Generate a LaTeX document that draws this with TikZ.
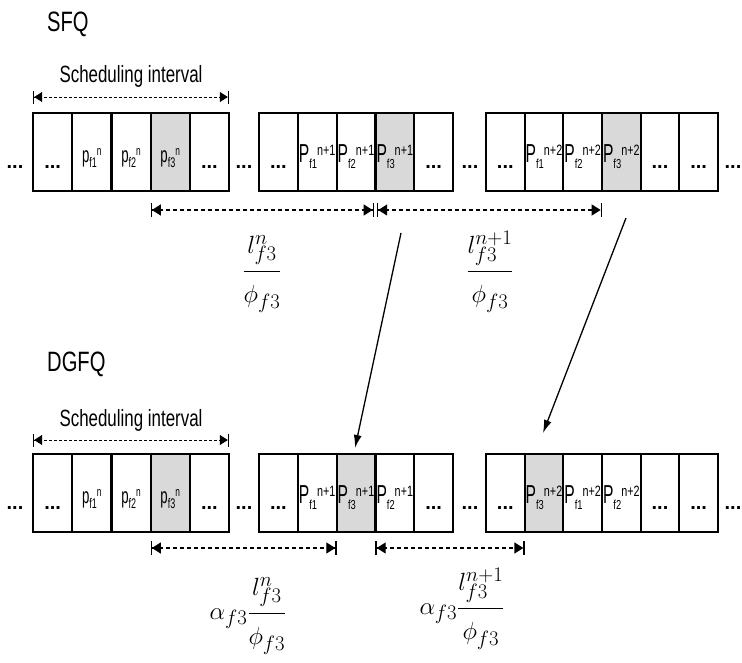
\documentclass[tikz,border=0pt]{standalone}
\usepackage{fontspec}
\setmainfont{Liberation Sans}
\newfontfamily\nar[FakeStretch=0.72]{Liberation Sans}
\newfontfamily\narq[FakeStretch=0.64]{Liberation Sans}
\newfontfamily\narp[FakeStretch=0.6]{Liberation Sans}
\usetikzlibrary{arrows.meta,calc}
\newcommand\dts{{\fontsize{20}{20}\selectfont\bfseries ...}}
\newcommand\pl[2]{{\narp\fontsize{22}{22}\selectfont p}\raisebox{-5pt}{\narq\fontsize{14}{14}\selectfont #1}\raisebox{7pt}{\narq\fontsize{13}{13}\selectfont #2}}
\newcommand\Pl[2]{{\narp\fontsize{26}{26}\selectfont P}\raisebox{-6pt}{\nar\fontsize{13}{13}\selectfont #1}\raisebox{7pt}{\nar\fontsize{15}{15}\selectfont #2}}
\newcommand\numst{\rule[-0.55em]{0pt}{0pt}}
\newcommand\denst{\rule{0pt}{1.1em}}
\begin{document}
\begin{tikzpicture}[x=1pt,y=-1pt,
  cell/.style={draw,line width=2.2pt,minimum height=78pt,inner sep=0pt,outer sep=0pt,text height=32pt,text depth=0pt},
  lcell/.style={cell,text height=20pt},
  gcell/.style={lcell,fill=gray!30},
  wa/.style={minimum width=39.2pt},
  wb/.style={minimum width=38.8pt},
  wc/.style={minimum width=38.67pt},
  outdots/.style={anchor=base,inner sep=0pt},
  title/.style={anchor=base west,inner sep=0pt,font=\nar\fontsize{28}{28}\selectfont},
  sched/.style={anchor=base,inner sep=0pt,font=\nar\fontsize{23.5}{24}\selectfont},
  dim/.style={dash pattern=on 4pt off 3pt,line width=1.3pt,
    {Bar[width=14pt,line width=1.3pt]Triangle[length=9pt,width=11pt]}-{Triangle[length=9pt,width=11pt]Bar[width=14pt,line width=1.3pt]}},
  sdim/.style={dash pattern=on 3pt off 2pt,line width=1pt,
    {Bar[width=13pt,line width=1.2pt]Triangle[length=8pt,width=10pt]}-{Triangle[length=8pt,width=10pt]Bar[width=13pt,line width=1.2pt]}},
  move/.style={line width=1.3pt,-{Latex[length=13pt,width=8pt]}},
  frac/.style={anchor=base,inner sep=0pt,font=\fontsize{28}{28}\selectfont}]
\useasboundingbox (0,0) rectangle (742,662);

% titles
\node[title] (sfq) at (47,31) {SFQ};
\node[title] (dgfq) at (47,371) {DGFQ};
\node[sched] (si1) at (131,82) {Scheduling interval};
\node[sched] (si2) at (131,426) {Scheduling interval};

% ---------- upper row ----------
\node[cell,wa] (u11) at (52.6,152) {\dts};
\node[lcell,wa] (u12) at (91.8,152) {\pl{f1}{n}};
\node[lcell,wa] (u13) at (131,152) {\pl{f2}{n}};
\node[gcell,wa] (u14) at (170.2,152) {\pl{f3}{n}};
\node[cell,wa] (u15) at (209.4,152) {\dts};

\node[cell,wb] (u21) at (278.4,152) {\dts};
\node[lcell,wb] (u22) at (317.2,152) {\Pl{f1}{n+1}};
\node[lcell,wb] (u23) at (356,152) {\Pl{f2}{n+1}};
\node[gcell,wb] (u24) at (394.8,152) {\Pl{f3}{n+1}};
\node[cell,wb] (u25) at (433.6,152) {\dts};

\node[cell,wc] (u31) at (505.3,152) {\dts};
\node[lcell,wc] (u32) at (544,152) {\Pl{f1}{n+2}};
\node[lcell,wc] (u33) at (582.7,152) {\Pl{f2}{n+2}};
\node[gcell,wc] (u34) at (621.3,152) {\Pl{f3}{n+2}};
\node[cell,wc] (u35) at (660,152) {\dts};
\node[cell,wc] (u36) at (698.7,152) {\dts};

\node[outdots] (ud1) at (15,168) {\dts};
\node[outdots] (ud2) at (244,168) {\dts};
\node[outdots] (ud3) at (470,168) {\dts};
\node[outdots] (ud4) at (733,168) {\dts};

% ---------- lower row ----------
\node[cell,wa] (l11) at (52.6,493) {\dts};
\node[lcell,wa] (l12) at (91.8,493) {\pl{f1}{n}};
\node[lcell,wa] (l13) at (131,493) {\pl{f2}{n}};
\node[gcell,wa] (l14) at (170.2,493) {\pl{f3}{n}};
\node[cell,wa] (l15) at (209.4,493) {\dts};

\node[cell,wb] (l21) at (278.4,493) {\dts};
\node[lcell,wb] (l22) at (317.2,493) {\Pl{f1}{n+1}};
\node[gcell,wb] (l23) at (356,493) {\Pl{f3}{n+1}};
\node[lcell,wb] (l24) at (394.8,493) {\Pl{f2}{n+1}};
\node[cell,wb] (l25) at (433.6,493) {\dts};

\node[cell,wc] (l31) at (505.3,493) {\dts};
\node[gcell,wc] (l32) at (544,493) {\Pl{f3}{n+2}};
\node[lcell,wc] (l33) at (582.7,493) {\Pl{f1}{n+2}};
\node[lcell,wc] (l34) at (621.3,493) {\Pl{f2}{n+2}};
\node[cell,wc] (l35) at (660,493) {\dts};
\node[cell,wc] (l36) at (698.7,493) {\dts};

\node[outdots] (ld1) at (15,509) {\dts};
\node[outdots] (ld2) at (244,509) {\dts};
\node[outdots] (ld3) at (470,509) {\dts};
\node[outdots] (ld4) at (733,509) {\dts};

% ---------- dimension arrows ----------
\coordinate (sa1) at ($(u11.north west)+(0,-16)$);
\coordinate (sb1) at ($(u15.north east)+(0,-16)$);
\draw[sdim] (sa1) -- (sb1);
\coordinate (sa2) at ($(l11.north west)+(0,-14)$);
\coordinate (sb2) at ($(l15.north east)+(0,-14)$);
\draw[sdim] (sa2) -- (sb2);

\coordinate (da1) at ($(u14.south west)+(0,19)$);
\coordinate (db1) at ($(u24.south west)+(-1.5,19)$);
\coordinate (da2) at ($(u24.south west)+(1.5,19)$);
\coordinate (db2) at ($(u34.south west)+(0,19)$);
\draw[dim] (da1) -- (db1);
\draw[dim] (da2) -- (db2);

\coordinate (da3) at ($(l14.south west)+(0,16)$);
\coordinate (db3) at ($(l23.south west)+(0,16)$);
\coordinate (da4) at ($(l24.south west)+(0,16)$);
\coordinate (db4) at ($(l32.south west)+(0,16)$);
\draw[dim] (da3) -- (db3);
\draw[dim] (da4) -- (db4);

% ---------- fractions (bar at base + 7pt) ----------
\node[frac] (f1) at (262,277) {$\displaystyle\frac{\numst l_{f3}^{n}}{\denst\phi_{f3}}$};
\node[frac] (f2) at (490,277) {$\displaystyle\frac{\numst l_{f3}^{n+1}}{\denst\phi_{f3}}$};
\node[frac] (f3) at (248,619) {$\displaystyle\alpha_{f3}\frac{\numst l_{f3}^{n}}{\denst\phi_{f3}}$};
\node[frac] (f4) at (462,614) {$\displaystyle\alpha_{f3}\frac{\numst l_{f3}^{n+1}}{\denst\phi_{f3}}$};

% ---------- moving arrows ----------
\coordinate (m1) at (401,233);
\coordinate (e1) at (355,448);
\coordinate (m2) at (626,218);
\coordinate (e2) at (543,433);
\draw[move] (m1) -- (e1);
\draw[move] (m2) -- (e2);
\end{tikzpicture}
\end{document}
